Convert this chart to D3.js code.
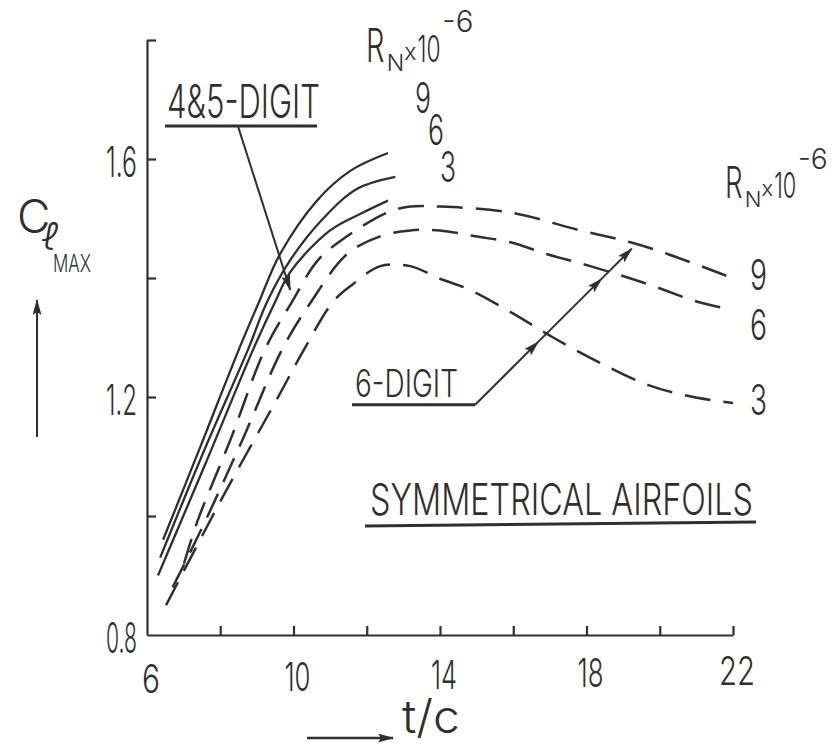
<!DOCTYPE html>
<html>
<head>
<meta charset="utf-8">
<script src="https://cdn.jsdelivr.net/npm/d3@7"></script>
<style>
  html, body { margin: 0; padding: 0; background: #fff; }
  svg { display: block; }
  text { font-family: "Inter", "Liberation Sans Narrow", "Liberation Sans", sans-serif; font-weight: 300; fill: #2f2f2f; }
</style>
</head>
<body>
<svg id="chart" width="840" height="745"></svg>
<script>
// Maximum section lift coefficient vs thickness ratio, symmetrical airfoils.
const xTicks = [8, 10, 12, 14, 16, 18, 20, 22];
const xTickLabels = [6, 10, 14, 18, 22];
const yTicks = [1.0, 1.2, 1.4, 1.6, 1.8];
const yTickLabels = ["0.8", "1.2", "1.6"];
const reynolds = ["9", "6", "3"];

// 4- and 5-digit sections (solid), R_N x 10^-6 = 9, 6, 3  — [t/c %, Cl_max]
const fourFive9 = [[6.44, 0.96], [7.48, 1.12], [8.51, 1.28], [9.06, 1.36], [9.63, 1.44], [10.64, 1.53], [11.55, 1.58], [12.58, 1.61]];
const fourFive6 = [[6.36, 0.93], [7.56, 1.11], [8.76, 1.28], [9.28, 1.36], [9.91, 1.43], [10.81, 1.50], [11.74, 1.55], [12.78, 1.57]];
const fourFive3 = [[6.30, 0.90], [7.61, 1.09], [8.90, 1.28], [9.50, 1.36], [9.91, 1.41], [11.00, 1.48], [11.90, 1.51], [12.58, 1.53]];

// 6-digit sections (dashed), R_N x 10^-6 = 9, 6, 3
const six9 = [[7.01, 0.92], [7.37, 0.99], [8.29, 1.13], [9.22, 1.28], [9.96, 1.36], [10.67, 1.43], [11.46, 1.47], [12.56, 1.51], [13.19, 1.52], [14.00, 1.52], [15.92, 1.51], [17.83, 1.48], [19.20, 1.46], [20.23, 1.44], [21.98, 1.40]];
const six6 = [[6.70, 0.88], [7.58, 0.99], [8.62, 1.13], [9.69, 1.28], [10.48, 1.36], [11.46, 1.44], [12.37, 1.47], [13.19, 1.48], [14.00, 1.48], [14.96, 1.47], [15.92, 1.46], [16.93, 1.44], [18.10, 1.42], [19.66, 1.39], [21.03, 1.36], [21.71, 1.35]];
const six3 = [[6.52, 0.85], [8.05, 1.03], [9.58, 1.20], [10.29, 1.28], [11.08, 1.36], [11.63, 1.39], [12.37, 1.42], [13.19, 1.42], [13.95, 1.40], [14.82, 1.38], [16.00, 1.34], [17.09, 1.30], [18.29, 1.26], [19.69, 1.22], [20.92, 1.20], [22.00, 1.19]];

const solidSeries = [fourFive9, fourFive6, fourFive3];
const dashedSeries = [six9, six6, six3];

const ink = "#2f2f2f";
const svg = d3.select("#chart");

const x = d3.scaleLinear().domain([6, 22]).range([147, 733]);
const y = d3.scaleLinear().domain([0.8, 1.8]).range([635, 40]);

// arrowhead marker
svg.append("defs").append("marker")
  .attr("id", "head")
  .attr("viewBox", "0 0 16 9")
  .attr("refX", 15).attr("refY", 4.5)
  .attr("markerWidth", 16).attr("markerHeight", 9)
  .attr("markerUnits", "userSpaceOnUse")
  .attr("orient", "auto")
  .append("path").attr("d", "M0,0 L16,4.5 L0,9 L3,4.5 Z").attr("fill", ink);

// axes
const xAxis = svg.append("g").attr("transform", `translate(0,${y(0.8)})`)
  .call(d3.axisBottom(x).tickValues(xTicks).tickSize(-9).tickSizeOuter(0).tickFormat(""));
const yAxis = svg.append("g").attr("transform", `translate(${x(6)},0)`)
  .call(d3.axisLeft(y).tickValues(yTicks).tickSize(-9).tickSizeOuter(0).tickFormat(""));
[xAxis, yAxis].forEach(g => {
  g.selectAll("path, line").attr("stroke", ink).attr("stroke-width", 2.2);
});

// tick labels
svg.append("g").selectAll("text").data(xTickLabels).join("text")
  .attr("x", d => x(d) + 4)
  .attr("y", d => 693 - (d - 6) * 0.5)
  .attr("text-anchor", "middle")
  .attr("font-size", 40)
  .attr("textLength", d => d === 6 ? 18 : (d === 22 ? 36 : 26))
  .attr("lengthAdjust", "spacingAndGlyphs")
  .text(d => d);

svg.append("g").selectAll("text").data(yTickLabels).join("text")
  .attr("x", 137)
  .attr("y", d => y(+d) + 18)
  .attr("text-anchor", "end")
  .attr("font-size", 42)
  .attr("textLength", 31)
  .attr("lengthAdjust", "spacingAndGlyphs")
  .text(d => d);

// curves
const line = d3.line().x(d => x(d[0])).y(d => y(d[1])).curve(d3.curveCatmullRom.alpha(0.5));
svg.append("g").selectAll("path").data(solidSeries).join("path")
  .attr("d", line).attr("fill", "none").attr("stroke", ink).attr("stroke-width", 2.3);
svg.append("g").selectAll("path").data(dashedSeries).join("path")
  .attr("d", line).attr("fill", "none").attr("stroke", ink).attr("stroke-width", 2.5)
  .attr("stroke-dasharray", "26,13");

// axis titles
const yTitle = svg.append("text").attr("x", 17).attr("y", 233).attr("font-size", 46);
yTitle.append("tspan").text("C");
yTitle.append("tspan").attr("x", 42).attr("y", 250).attr("font-size", 38).attr("font-style", "italic").text("ℓ");
yTitle.append("tspan").attr("x", 53).attr("y", 272).attr("font-size", 24).attr("textLength", 38).attr("lengthAdjust", "spacingAndGlyphs").text("MAX");
svg.append("line").attr("x1", 37).attr("y1", 437).attr("x2", 37).attr("y2", 300)
  .attr("stroke", ink).attr("stroke-width", 2).attr("marker-end", "url(#head)");

svg.append("text").attr("x", 402).attr("y", 733).attr("font-size", 46).attr("textLength", 58).attr("lengthAdjust", "spacingAndGlyphs").text("t/c");
svg.append("line").attr("x1", 307).attr("y1", 738).attr("x2", 393).attr("y2", 738)
  .attr("stroke", ink).attr("stroke-width", 2.5).attr("marker-end", "url(#head)");

// Reynolds number keys, one text element each
function rnKey(left, base, big) {
  const t = svg.append("text").attr("x", left).attr("y", base).attr("font-size", big);
  t.append("tspan").attr("textLength", big * 0.40).attr("lengthAdjust", "spacingAndGlyphs").text("R");
  t.append("tspan").attr("x", left + big * 0.45).attr("y", base + big * 0.2).attr("font-size", big * 0.5).text("N");
  t.append("tspan").attr("x", left + big * 0.83).attr("y", base - big * 0.04).attr("font-size", big * 0.5).text("x");
  t.append("tspan").attr("x", left + big * 1.12).attr("y", base).attr("font-size", big * 0.8).attr("textLength", big * 0.5).attr("lengthAdjust", "spacingAndGlyphs").text("10");
  t.append("tspan").attr("x", left + big * 1.66).attr("y", base - big * 0.66).attr("font-size", big * 0.64).text("-6");
}
rnKey(366, 62, 46);
rnKey(725, 198, 44);

// series tags beside the solid curve ends
const leftTags = [[415, 113], [428, 145], [440, 182]];
svg.append("g").selectAll("text").data(reynolds).join("text")
  .attr("x", (d, i) => leftTags[i][0]).attr("y", (d, i) => leftTags[i][1])
  .attr("font-size", 42).attr("textLength", 16).attr("lengthAdjust", "spacingAndGlyphs").text(d => d);

// series tags at the right end of the dashed curves
svg.append("g").selectAll("text").data(reynolds).join("text")
  .attr("x", 750)
  .attr("y", (d, i) => y(dashedSeries[i][dashedSeries[i].length - 1][1]) + [12, 32, 12][i])
  .attr("font-size", 42).attr("textLength", 17).attr("lengthAdjust", "spacingAndGlyphs").text(d => d);

// 4 & 5-digit annotation
svg.append("text").attr("x", 167).attr("y", 118).attr("font-size", 46).attr("textLength", 153).attr("lengthAdjust", "spacingAndGlyphs").text("4&5-DIGIT");
svg.append("line").attr("x1", 165).attr("y1", 126).attr("x2", 317).attr("y2", 126).attr("stroke", ink).attr("stroke-width", 2.8);
svg.append("line").attr("x1", x(8.49)).attr("y1", y(1.654)).attr("x2", x(9.91)).attr("y2", y(1.38))
  .attr("stroke", ink).attr("stroke-width", 2).attr("marker-end", "url(#head)");

// 6-digit annotation: leader with arrowheads at each dashed curve
svg.append("text").attr("x", 355).attr("y", 397).attr("font-size", 38).attr("textLength", 103).attr("lengthAdjust", "spacingAndGlyphs").text("6-DIGIT");
const lead0 = [x(14.96), y(1.187)], lead1 = [x(19.28), y(1.452)];
svg.append("line").attr("x1", 352).attr("y1", lead0[1]).attr("x2", lead0[0]).attr("y2", lead0[1]).attr("stroke", ink).attr("stroke-width", 2.8);
const stops = [0, 0.40, 0.80, 0.99];
for (let i = 0; i < 3; i++) {
  const a = stops[i], b = stops[i + 1];
  svg.append("line")
    .attr("x1", lead0[0] + (lead1[0] - lead0[0]) * a).attr("y1", lead0[1] + (lead1[1] - lead0[1]) * a)
    .attr("x2", lead0[0] + (lead1[0] - lead0[0]) * b).attr("y2", lead0[1] + (lead1[1] - lead0[1]) * b)
    .attr("stroke", ink).attr("stroke-width", 2).attr("marker-end", "url(#head)");
}

// title
svg.append("text").attr("x", 370).attr("y", 515).attr("font-size", 44).attr("textLength", 383).attr("lengthAdjust", "spacingAndGlyphs").text("SYMMETRICAL AIRFOILS");
svg.append("line").attr("x1", 365).attr("y1", 526).attr("x2", 756).attr("y2", 522).attr("stroke", ink).attr("stroke-width", 3);
</script>
</body>
</html>
